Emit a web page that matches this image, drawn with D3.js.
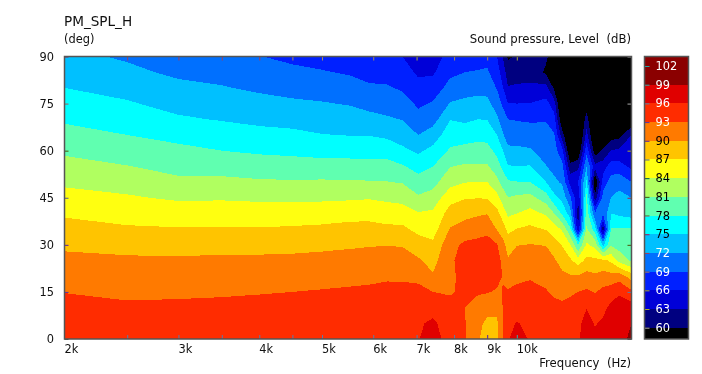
<!DOCTYPE html>
<html>
<head>
<meta charset="utf-8">
<script src="https://cdn.jsdelivr.net/npm/d3@7"></script>
<style>
  body { margin: 0; background: #fff; }
  svg { display: block; }
  text { font-family: "DejaVu Sans", sans-serif; font-size: 11.4px; fill: #111; white-space: pre; }
  .title { font-size: 13.6px; }
  .unit { font-size: 11.7px; }
  .tick line { stroke: #aaa; mix-blend-mode: difference; }
  .domain { display: none; }
</style>
</head>
<body>
<svg id="chart" width="702" height="374"></svg>
<script>
const chartTitle = "PM_SPL_H";
const yUnit = "(deg)";
const legendUnit = "Sound pressure, Level  (dB)";
const xUnit = "Frequency  (Hz)";

// off-axis angle of each row in the columns below
const angles = [0, 5, 10, 15, 20, 25, 30, 35, 40, 45, 50, 55, 60, 65, 70, 75, 80, 85, 90];

const freqs = [2000, 2500, 3000, 3500, 4000, 4500, 5000, 5520, 5910, 6300, 6660, 7040, 7420, 7890, 8320, 8710,
    9000, 9320, 9520, 9690, 10000, 10480, 11100, 11420, 11750, 12090, 12440, 12820, 13210, 13590, 13990, 14390, 15040];

// SPL in dB, one line per frequency
const splColumns = [
    [95.4,95.0,94.2,92.9,91.8,90.7,89.5,88.1,86.6,85.0,83.5,82.0,80.5,79.0,77.6,76.3,75.0,73.8,72.8],
    [95.0,94.4,93.5,92.4,91.4,90.4,89.2,87.4,85.8,84.3,82.9,81.1,79.5,78.0,76.6,75.3,74.0,72.7,71.6],
    [95.0,94.5,93.6,92.5,91.4,90.4,88.9,87.2,85.5,83.6,81.6,80.1,78.8,77.0,75.4,74.0,72.8,71.4,70.2],
    [95.2,94.7,93.8,92.6,91.5,90.6,89.0,87.2,85.5,83.7,81.6,80.0,78.0,76.6,74.8,73.6,72.2,71.0,69.9],
    [95.5,95.0,94.0,92.8,91.6,90.6,89.0,87.2,85.4,83.5,81.4,79.3,77.6,75.8,74.4,73.0,71.5,70.3,69.1],
    [95.6,95.2,94.3,93.0,91.8,90.7,89.1,87.4,85.4,83.4,81.3,79.1,77.4,75.6,74.1,72.5,71.0,69.7,68.3],
    [95.7,95.4,94.6,93.2,92.0,90.8,89.4,87.6,85.6,83.5,81.4,79.0,77.1,75.1,73.6,72.2,70.7,69.2,67.9],
    [95.8,95.5,94.8,93.4,92.2,91.1,89.6,87.9,86.0,83.6,81.3,79.0,77.0,74.9,73.3,71.8,70.2,68.7,67.5],
    [95.8,95.6,95.0,93.6,92.3,91.3,89.8,88.0,86.0,83.8,81.2,79.0,76.9,74.9,72.8,71.2,69.4,68.1,67.0],
    [95.8,95.6,95.1,94.0,92.5,91.4,89.9,87.6,85.6,83.4,81.1,79.0,76.8,74.4,72.3,71.0,69.3,67.9,66.8],
    [95.6,95.4,94.9,93.9,92.5,91.3,89.8,87.6,85.5,83.0,80.8,78.3,75.6,73.6,71.9,70.3,68.6,67.3,66.0],
    [95.9,95.7,95.0,93.9,92.2,90.4,88.4,86.2,84.2,81.4,79.2,76.9,74.5,72.0,70.0,68.5,67.0,65.5,64.5],
    [97.0,96.4,95.2,93.0,90.3,89.0,87.6,85.7,84.6,82.2,80.0,78.0,75.8,73.5,70.8,69.3,67.5,65.6,64.5],
    [95.0,94.8,94.0,92.7,92.4,92.6,92.1,90.2,88.2,86.0,83.0,80.9,78.4,76.6,74.9,72.2,70.0,68.4,67.2],
    [93.2,93.1,93.0,93.6,94.0,94.0,93.6,91.2,89.2,86.8,83.9,81.4,79.0,76.6,74.5,72.7,70.8,69.0,67.8],
    [90.3,90.7,91.8,93.3,94.4,94.7,93.8,91.9,89.6,86.9,84.0,81.4,79.2,77.1,75.0,73.0,71.0,69.2,67.8],
    [88.6,89.4,91.0,93.2,94.4,95.0,94.2,92.2,89.9,86.8,84.0,81.4,79.0,77.0,74.9,72.8,71.0,69.4,68.0],
    [89.7,89.4,91.0,92.7,93.9,94.5,93.2,89.8,88.0,85.0,81.9,79.3,77.2,75.0,72.6,70.6,68.8,67.4,66.0],
    [93.1,93.1,93.1,93.1,92.9,92.0,91.0,88.3,85.5,82.6,79.9,77.2,75.0,72.2,70.6,68.4,66.1,64.5,62.8],
    [95.9,95.5,94.5,93.3,91.7,90.3,88.8,86.2,83.4,81.1,78.4,75.2,72.6,70.8,69.0,66.1,63.2,61.5,59.5],
    [96.5,96.1,94.9,93.5,92.5,91.3,89.9,87.1,84.0,81.6,78.1,75.0,72.6,70.7,68.8,66.0,63.4,61.8,60.4],
    [95.9,95.6,95.2,93.9,92.7,91.6,90.1,87.7,85.0,82.0,78.0,75.2,72.3,70.5,68.6,66.1,63.5,62.0,61.0],
    [95.7,95.2,94.6,93.2,92.2,91.1,89.9,86.8,83.6,79.4,75.0,72.1,71.0,70.2,68.7,67.0,64.0,59.5,60.5],
    [95.3,94.9,93.9,92.5,91.5,90.4,88.5,85.4,81.0,76.0,72.6,71.2,70.2,69.3,67.2,64.4,59.5,55.0,58.0],
    [95.2,94.7,93.6,92.2,90.7,88.8,86.8,83.6,77.6,74.0,71.6,70.0,67.0,61.5,57.0,55.0,54.0,54.0,54.0],
    [95.3,94.9,93.9,92.6,90.3,87.6,84.1,78.6,73.5,69.7,65.0,61.0,56.5,55.0,55.0,55.0,55.0,55.0,55.0],
    [95.5,95.3,94.6,93.0,90.2,85.4,78.0,63.6,61.2,63.5,66.0,62.2,57.0,55.0,55.0,55.0,55.0,55.0,55.0],
    [98.0,97.2,95.9,93.5,91.0,87.9,84.4,81.5,80.0,79.0,75.5,72.0,68.0,64.2,61.5,58.0,55.0,54.0,54.0],
    [96.6,95.8,94.8,92.8,90.5,87.7,83.0,76.5,69.5,61.0,56.5,64.0,58.0,55.0,54.0,54.0,54.0,54.0,54.0],
    [97.2,96.5,95.2,93.8,91.2,87.8,74.0,61.0,69.4,70.0,67.5,64.5,60.6,56.0,54.0,54.0,54.0,54.0,54.0],
    [98.0,97.8,96.8,94.6,91.0,86.4,80.6,78.2,75.0,72.1,70.1,67.6,63.2,58.5,55.0,54.0,54.0,54.0,54.0],
    [98.0,98.0,97.3,95.6,91.7,83.0,79.7,78.2,74.4,72.9,71.0,67.3,63.5,59.0,56.0,54.0,54.0,54.0,54.0],
    [99.6,99.0,97.5,93.6,88.6,80.5,79.2,78.2,73.8,72.0,69.0,65.3,64.5,63.0,57.0,55.0,54.0,54.0,54.0]
];

// lower edge of each colour band, black below the first one
const levels = [60, 63, 66, 69, 72, 75, 78, 81, 84, 87, 90, 93, 96, 99];
const levelColours = ["#000080", "#0000d8", "#0020ff", "#0070ff", "#00c0ff", "#00ffff", "#60ffb0",
    "#b0ff60", "#ffff10", "#ffc400", "#ff7a00", "#ff2c00", "#e00000", "#8b0000"];
const belowColour = "#000000";

const legendLabels = [60, 63, 66, 69, 72, 75, 78, 81, 84, 87, 90, 93, 96, 99, 102];
const legendDark = [75, 78, 81, 84, 87, 90];

const xTicks = [2500, 3000, 3500, 4000, 4500, 5000, 6000, 7000, 8000, 9000, 10000];
const xLabels = [2000, 3000, 4000, 5000, 6000, 7000, 8000, 9000, 10000];
const yTicks = [0, 15, 30, 45, 60, 75, 90];

const svg = d3.select("#chart");

const x = d3.scaleLog().domain([2000, 15040]).range([64.5, 631.5]);
const y = d3.scaleLinear().domain([0, 90]).range([339, 56.5]);
const legendY = d3.scaleLinear().domain([60, 102]).range([327.7, 66]);

// flatten for d3.contours: rows by angle, columns by frequency
const grid = [];
for (let r = 0; r < angles.length; r++) {
    for (let c = 0; c < freqs.length; c++) {
        grid.push(splColumns[c][r]);
    }
}

const colToPx = d3.scaleLinear().domain(d3.range(freqs.length)).range(freqs.map(f => x(f))).clamp(true);
const rowToPx = d3.scaleLinear().domain(d3.range(angles.length)).range(angles.map(a => y(a))).clamp(true);

const contours = d3.contours()
    .size([freqs.length, angles.length])
    .thresholds(levels)(grid);

// contour coordinates have grid nodes at i + 0.5
const path = d3.geoPath(d3.geoTransform({
    point(px, py) { this.stream.point(colToPx(px - 0.5), rowToPx(py - 0.5)); }
}));

const plot = svg.append("g");

plot.append("rect")
    .attr("x", x.range()[0]).attr("y", y.range()[1])
    .attr("width", x.range()[1] - x.range()[0])
    .attr("height", y.range()[0] - y.range()[1])
    .attr("fill", belowColour);

plot.selectAll("path")
    .data(contours)
    .enter().append("path")
    .attr("d", path)
    .attr("fill", (d, i) => levelColours[i])
    .attr("shape-rendering", "crispEdges");

// frame ticks point inwards, labels are placed by hand below
plot.append("g").attr("transform", `translate(0,${y.range()[0]})`)
    .call(d3.axisBottom(x).tickValues(xTicks).tickSize(-4).tickFormat(""));
plot.append("g").attr("transform", `translate(0,${y.range()[1]})`)
    .call(d3.axisTop(x).tickValues(xTicks).tickSize(-4).tickFormat(""));
plot.append("g").attr("transform", `translate(${x.range()[0]},0)`)
    .call(d3.axisLeft(y).tickValues(yTicks).tickSize(-4).tickFormat(""));
plot.append("g").attr("transform", `translate(${x.range()[1]},0)`)
    .call(d3.axisRight(y).tickValues(yTicks).tickSize(-4).tickFormat(""));

plot.append("rect")
    .attr("x", x.range()[0]).attr("y", y.range()[1])
    .attr("width", x.range()[1] - x.range()[0])
    .attr("height", y.range()[0] - y.range()[1])
    .attr("fill", "none").attr("stroke", "#555").attr("stroke-width", 1.5);

svg.append("g").selectAll("text")
    .data(xLabels)
    .enter().append("text")
    .attr("x", d => x(d))
    .attr("y", 353)
    .text(d => (d / 1000) + "k");

svg.append("g").selectAll("text")
    .data(yTicks)
    .enter().append("text")
    .attr("x", 54)
    .attr("y", d => y(d) + 4)
    .attr("text-anchor", "end")
    .text(d => d);

svg.append("text").attr("class", "title").attr("x", 64).attr("y", 26).text(chartTitle);
svg.append("text").attr("x", 64).attr("y", 43).text(yUnit);
svg.append("text").attr("class", "unit").attr("x", 631).attr("y", 43).attr("text-anchor", "end").text(legendUnit);
svg.append("text").attr("class", "unit").attr("x", 631).attr("y", 367).attr("text-anchor", "end").text(xUnit);

//////////// COLOUR BAR ////////////

const barLeft = 644.5, barRight = 688.5, barTop = 56.5, barBottom = 339;
const bar = svg.append("g");

bar.append("rect")
    .attr("x", barLeft).attr("y", barTop)
    .attr("width", barRight - barLeft).attr("height", barBottom - barTop)
    .attr("fill", belowColour);

bar.selectAll("rect.band")
    .data(levels)
    .enter().append("rect")
    .attr("class", "band")
    .attr("x", barLeft)
    .attr("width", barRight - barLeft)
    .attr("y", (d, i) => i == levels.length - 1 ? barTop : legendY(levels[i + 1]))
    .attr("height", (d, i) => legendY(d) - (i == levels.length - 1 ? barTop : legendY(levels[i + 1])))
    .attr("fill", (d, i) => levelColours[i])
    .attr("shape-rendering", "crispEdges");

bar.append("g").attr("transform", `translate(${barLeft},0)`)
    .call(d3.axisLeft(legendY).tickValues(legendLabels).tickSize(-5).tickFormat(""));

bar.append("rect")
    .attr("x", barLeft).attr("y", barTop)
    .attr("width", barRight - barLeft).attr("height", barBottom - barTop)
    .attr("fill", "none").attr("stroke", "#555").attr("stroke-width", 1.5);

bar.selectAll("text.level")
    .data(legendLabels)
    .enter().append("text")
    .attr("class", "level")
    .attr("x", 655.5)
    .attr("y", d => legendY(d) + 4)
    .style("fill", d => legendDark.includes(d) ? "#000" : "#fff")
    .text(d => d);
</script>
</body>
</html>
